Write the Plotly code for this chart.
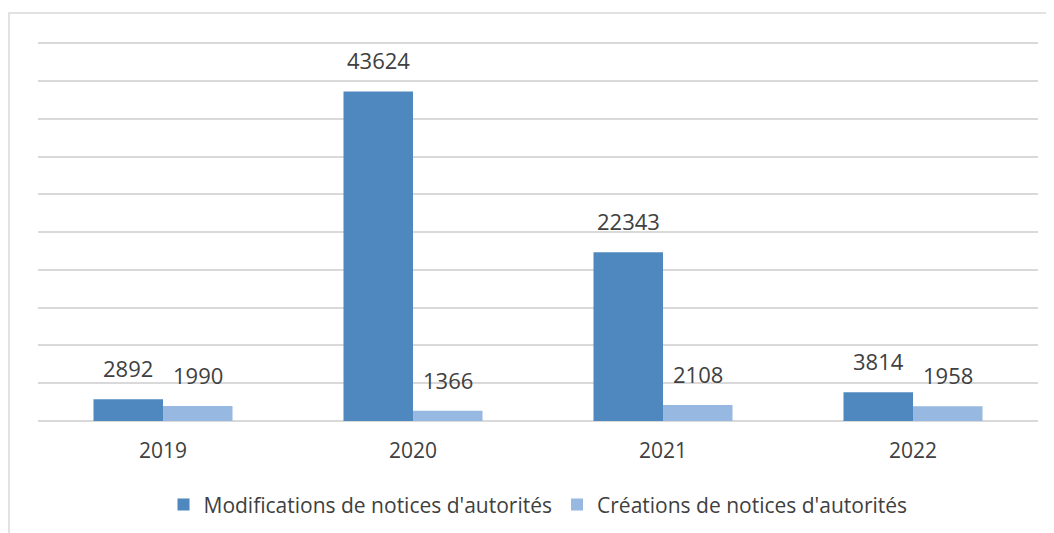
import plotly.graph_objects as go

years = ["2019", "2020", "2021", "2022"]
modifications = [2892, 43624, 22343, 3814]
creations = [1990, 1366, 2108, 1958]
series_names = ["Modifications de notices d'autorités", "Créations de notices d'autorités"]

font_family = "Open Sans, Liberation Sans, sans-serif"
text_color = "#404040"
grid_color = "#D9D9D9"

fig = go.Figure()
fig.add_trace(go.Bar(
    x=years, y=modifications, name=series_names[0],
    marker=dict(color="#4F88BE", line=dict(width=0)),
))
fig.add_trace(go.Bar(
    x=years, y=creations, name=series_names[1],
    marker=dict(color="#97B8E0", line=dict(width=0)),
))

bargap = 0.444
bar_w = (1 - bargap) / 2  # one bar width in category units
annotations = []
for vals, sign in ((modifications, -1), (creations, 1)):
    for i, v in enumerate(vals):
        annotations.append(dict(
            x=i + sign * bar_w / 2, y=v, xref="x", yref="y", text=str(v), showarrow=False,
            yshift=14, yanchor="bottom",
            font=dict(size=22, color=text_color, family=font_family),
        ))

fig.update_layout(
    width=1046, height=525,
    margin=dict(l=30, r=16, t=33, b=112, autoexpand=False),
    paper_bgcolor="white", plot_bgcolor="white",
    barmode="group", bargap=bargap, bargroupgap=0,
    font=dict(family=font_family, color=text_color, size=21),
    showlegend=True,
    legend=dict(orientation="h", x=0.5, xanchor="center", y=-0.167, yanchor="top",
                font=dict(size=21, color=text_color), itemwidth=30, traceorder="normal"),
    xaxis=dict(type="category", range=[-0.5, len(years) - 0.5], showgrid=False, ticks="",
               showline=False, automargin=False, ticklabelstandoff=15,
               tickfont=dict(size=21, color=text_color)),
    yaxis=dict(range=[0, 50300], tick0=0, dtick=5000, showgrid=True, gridcolor=grid_color,
               gridwidth=1.5, showticklabels=False, zeroline=True, automargin=False,
               zerolinecolor=grid_color, zerolinewidth=1.5, showline=False),
    annotations=annotations,
    shapes=[dict(type="rect", xref="paper", yref="paper", x0=-0.029, x1=1.03,
                 y0=-0.35, y1=1.074, line=dict(color=grid_color, width=1.5),
                 fillcolor="rgba(0,0,0,0)", layer="below")],
)

fig.write_html("out.html")
